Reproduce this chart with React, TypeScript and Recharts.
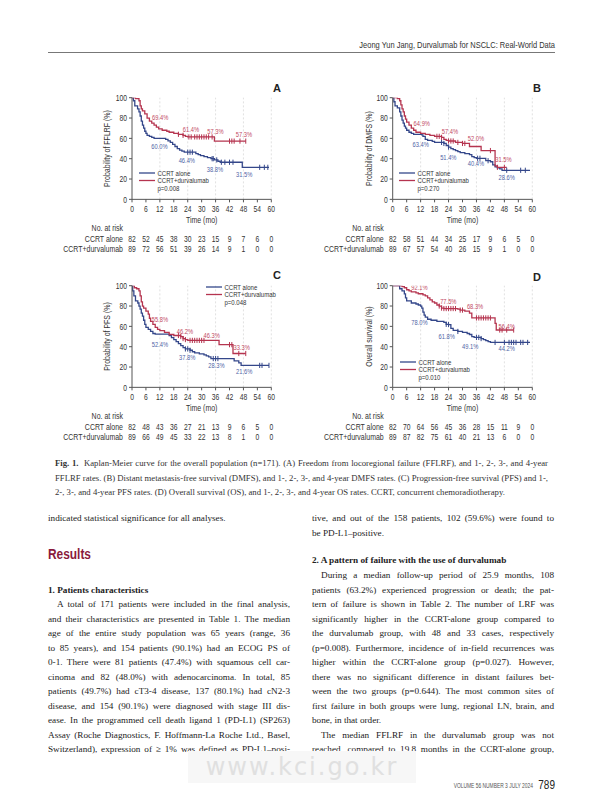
import React from 'react';
import { ComposedChart, Line, Scatter, XAxis, YAxis, ReferenceLine, Legend } from 'recharts';

type Step = [number, number];

// ---------- shared ticks ----------
const timeTicks = [0, 6, 12, 18, 24, 30, 36, 42, 48, 54, 60];
const survivalTicks = [0, 20, 40, 60, 80, 100];
const gridMonths = [12, 24, 36, 48, 60];

// ---------- Panel A: FFLRF ----------
const fflrfAlone: Step[] = [[0,100],[0.6,97],[1.2,92],[2.4,89],[3,86],[3.5,82],[4,77],[4.5,73],[5,70],[5.5,67],[6,65],[6.5,63],[7.5,62],[8.5,61],[9.5,60],[14.5,59],[15.5,57.5],[16.5,56],[17.5,54],[18.5,52],[19.5,50],[20.5,48.5],[21.5,47.5],[22.5,46.4],[27.5,45],[28.5,44],[29.5,43],[31,42],[32.5,41],[34,40],[35.5,38.8],[37,37.5],[38,36.5],[47.5,31.5],[59,31.5]];
const fflrfAloneCensor = [24, 25, 26, 34.5, 35, 36.5, 38.5, 40, 42, 43.5, 55, 57, 58.5];
const fflrfDurva: Step[] = [[0,100],[1.5,99],[3,97],[3.5,92],[4,89],[4.5,87],[5.5,84],[6.5,80],[7.5,77],[8.5,75],[9.5,73],[10.5,71],[11.5,69.4],[13,68],[15,67],[16,66],[18,65],[20,64],[22,63],[23,62],[24,61.4],[35.5,57.3],[49,57.3]];
const fflrfDurvaCensor = [20, 22, 24.5, 25.5, 27, 28, 29, 30, 31, 32, 33, 34.5, 42, 43, 44, 46.5, 49];
const fflrfAloneRates = ['60.0%', '46.4%', '38.8%', '31.5%'];
const fflrfAloneRateAt: Step[] = [[11.8,52.4],[23.6,38.7],[35.7,29.5],[48.3,25]];
const fflrfDurvaRates = ['69.4%', '61.4%', '57.3%', '57.3%'];
const fflrfDurvaRateAt: Step[] = [[12.1,80.7],[25.4,69],[35.9,67.3],[48.2,64.3]];
const fflrfRiskAlone = [82, 52, 45, 38, 30, 23, 15, 9, 7, 6, 0];
const fflrfRiskDurva = [89, 72, 56, 51, 39, 26, 14, 9, 1, 0, 0];

// ---------- Panel B: DMFS ----------
const dmfsAlone: Step[] = [[0,100],[0.5,96],[1,92],[2,90],[3,86],[3.5,82],[4,78],[4.5,75],[5,72],[5.5,70],[6,68],[7,66],[8,65],[9,64],[12.5,63.4],[13,62],[14,59],[15,58],[17,57],[18,56],[22,55],[23,53],[24,51.4],[25,50],[26,49],[27,48],[28,47],[29,46],[31,45],[33,44],[34,42],[35,41],[36,40.4],[40,38],[42,37],[43,34],[44,32],[45,31],[46,30],[47,28.6],[59,28.6]];
const dmfsAloneCensor = [21, 22, 24, 36.5, 37.5, 41, 49, 55, 57];
const dmfsDurva: Step[] = [[0,100],[2,99],[3,97],[3.5,93],[4,89],[4.5,86],[5,82],[5.5,79],[6,76],[7,73],[8,70],[9,68],[10,66],[12,64.9],[14,64],[16,63],[18,62],[21,61],[22,59],[23,58],[24,57.4],[27,56],[30,55],[33,52],[38,48],[44,33],[45,31.5],[49,31.5]];
const dmfsDurvaCensor = [19, 20, 21, 24, 25, 26, 28, 30, 31, 42, 45, 48];
const dmfsAloneRates = ['63.4%', '51.4%', '40.4%', '28.6%'];
const dmfsAloneRateAt: Step[] = [[12,54],[23.9,42],[35.8,36],[49,22.3]];
const dmfsDurvaRates = ['64.9%', '57.4%', '52.0%', '31.5%'];
const dmfsDurvaRateAt: Step[] = [[12.5,74.8],[24.6,67.2],[35.8,60],[47.6,39.7]];
const dmfsRiskAlone = [82, 58, 51, 44, 34, 25, 17, 9, 6, 5, 0];
const dmfsRiskDurva = [89, 67, 57, 54, 40, 26, 15, 9, 1, 0, 0];

// ---------- Panel C: PFS ----------
const pfsAlone: Step[] = [[0,100],[0.3,95],[0.8,90],[1.5,85],[2.5,83],[3,80],[3.5,77],[4,73],[4.5,70],[5,66],[5.5,62],[6,59],[7,57],[8,55],[9,53],[10,52.4],[16,51],[17,49],[18,47],[19,45],[20,43],[21,41],[22,39],[23,37.8],[25,36.5],[26,35],[27,34],[29,33],[31,32],[32,31],[33,30],[34,28.3],[44,26],[46,24],[47,21.6],[59,21.6]];
const pfsAloneCensor = [23, 24, 25, 35, 36, 37, 55, 56, 59];
const pfsDurva: Step[] = [[0,100],[1,98],[2,97],[3,95],[3.5,90],[4,84],[4.5,80],[5,78],[6,75],[7,72],[7.5,68],[8,65],[9,62],[10,59],[11,57],[12,55.8],[14,54],[16,52],[18,51],[21,50],[22,48],[23,47],[24,46.2],[37.5,42],[43.5,33.3],[49,33.3]];
const pfsDurvaCensor = [20, 21, 22, 23, 25, 26, 27, 28, 29, 30, 31, 42, 43, 46, 49];
const pfsAloneRates = ['52.4%', '37.8%', '28.3%', '21.6%'];
const pfsAloneRateAt: Step[] = [[12,42.3],[23.8,29.8],[36.4,21.6],[48.3,16.4]];
const pfsDurvaRates = ['55.8%', '46.2%', '46.3%', '33.3%'];
const pfsDurvaRateAt: Step[] = [[12,66.9],[22.8,55],[34.3,51.8],[47.2,39.7]];
const pfsRiskAlone = [82, 48, 43, 36, 27, 21, 13, 9, 6, 5, 0];
const pfsRiskDurva = [89, 66, 49, 45, 33, 22, 13, 8, 1, 0, 0];

// ---------- Panel D: OS ----------
const osAlone: Step[] = [[0,100],[3,97],[4,95],[5,92],[5.5,88],[6,85],[8,83],[10,82],[11,81],[12,80],[12.5,78],[13,74],[13.5,71],[14,69],[15,67],[16.5,66],[19,65],[22,64],[23,62],[24,61.8],[25,58],[26,56],[28,55],[30,54],[32,53],[33,52],[34,50],[35,49.1],[38,48],[39,47],[40,46],[41,45],[42,44.2],[59,44.2]];
const osAloneCensor = [23, 24, 28, 36, 37, 38, 44, 48, 50, 51, 52, 53, 55, 56, 58];
const osDurva: Step[] = [[0,100],[4,99],[5,98],[6,96],[7,95],[8,94],[10,93],[11,92.1],[13,91],[14,90],[15,88],[16,86],[17,84],[18,83],[19,81],[20,80],[21,78],[22,77.5],[28,77],[29,76],[31,75],[33,73],[34,68.3],[44,63],[44.5,56.4],[52,56.4]];
const osDurvaCensor = [20, 21, 22, 23, 24, 25, 26, 27, 29, 30, 36, 37, 38, 39, 40, 41, 42, 46, 47, 49, 52];
const osAloneRates = ['78.0%', '61.8%', '49.1%', '44.2%'];
const osAloneRateAt: Step[] = [[11.5,64.3],[23.2,50.5],[33.3,40.7],[49,38.7]];
const osDurvaRates = ['92.1%', '77.5%', '68.3%', '56.4%'];
const osDurvaRateAt: Step[] = [[11.5,98.7],[23.9,84.6],[35.4,80],[49,60.3]];
const osRiskAlone = [82, 70, 64, 56, 45, 36, 28, 15, 11, 9, 0];
const osRiskDurva = [89, 87, 82, 75, 61, 40, 21, 13, 6, 0, 0];

// ---------- page text ----------
const headerText = 'Jeong Yun Jang, Durvalumab for NSCLC: Real-World Data';
const captionLines = [
  'Kaplan-Meier curve for the overall population (n=171). (A) Freedom from locoregional failure (FFLRF), and 1-, 2-, 3-, and 4-year',
  'FFLRF rates. (B) Distant metastasis-free survival (DMFS), and 1-, 2-, 3-, and 4-year DMFS rates. (C) Progression-free survival (PFS) and 1-,',
  '2-, 3-, and 4-year PFS rates. (D) Overall survival (OS), and 1-, 2-, 3-, and 4-year OS rates. CCRT, concurrent chemoradiotherapy.',
];
const leftParagraph = [
  'A total of 171 patients were included in the final analysis,',
  'and their characteristics are presented in Table 1. The median',
  'age of the entire study population was 65 years (range, 36',
  'to 85 years), and 154 patients (90.1%) had an ECOG PS of',
  '0-1. There were 81 patients (47.4%) with squamous cell car-',
  'cinoma and 82 (48.0%) with adenocarcinoma. In total, 85',
  'patients (49.7%) had cT3-4 disease, 137 (80.1%) had cN2-3',
  'disease, and 154 (90.1%) were diagnosed with stage III dis-',
  'ease. In the programmed cell death ligand 1 (PD-L1) (SP263)',
  'Assay (Roche Diagnostics, F. Hoffmann-La Roche Ltd., Basel,',
  'Switzerland), expression of \u2265 1% was defined as PD-L1\u2013posi-',
];
const rightParagraph = [
  'During a median follow-up period of 25.9 months, 108',
  'patients (63.2%) experienced progression or death; the pat-',
  'tern of failure is shown in Table 2. The number of LRF was',
  'significantly higher in the CCRT-alone group compared to',
  'the durvalumab group, with 48 and 33 cases, respectively',
  '(p=0.008). Furthermore, incidence of in-field recurrences was',
  'higher within the CCRT-alone group (p=0.027). However,',
  'there was no significant difference in distant failures bet-',
  'ween the two groups (p=0.644). The most common sites of',
  'first failure in both groups were lung, regional LN, brain, and',
  'bone, in that order.',
  'The median FFLRF in the durvalumab group was not',
  'reached, compared to 19.8 months in the CCRT-alone group,',
];

// ---------- styling ----------
const SANS = '"Liberation Sans", Arial, sans-serif';
const SERIF = '"Liberation Serif", "DejaVu Serif", serif';
const NARROW = 0.75;
const BLUE = '#34478a';
const RED = '#b5344f';
const BLUE_TXT = '#4f64a6';
const RED_TXT = '#c24a64';
const AXIS = '#555';
const TXT = '#333';

const stepAt = (steps: Step[], t: number) => {
  let v = steps[0][1];
  for (const [x, y] of steps) {
    if (x <= t) v = y;
    else break;
  }
  return v;
};
const toPoints = (steps: Step[]) => steps.map(([t, s]) => ({ t, s }));
const toCensor = (steps: Step[], times: number[]) => times.map((t) => ({ t, s: stepAt(steps, t) }));
const toRates = (at: Step[], labels: string[]) => at.map(([t, s], i) => ({ t, s, label: labels[i] }));
const riskAnchors = timeTicks.map((t) => ({ t, s: 0 }));

type PanelCfg = {
  letter: string; left: number; top: number; yAxisW: number; mRight: number; yLabel: string; yLabelOffset: number;
  alone: Step[]; durva: Step[]; aloneCensor: number[]; durvaCensor: number[];
  aloneRates: { t: number; s: number; label: string }[]; durvaRates: { t: number; s: number; label: string }[];
  riskAlone: number[]; riskDurva: number[]; pValue: string; legendX: number; legendY: number; letterX: number; letterY: number;
};

const panels: PanelCfg[] = [
  {
    letter: 'A', left: 40, top: 80, yAxisW: 92, mRight: 18.7, yLabel: 'Probability of FFLRF (%)', yLabelOffset: 66.7,
    alone: fflrfAlone, durva: fflrfDurva, aloneCensor: fflrfAloneCensor, durvaCensor: fflrfDurvaCensor,
    aloneRates: toRates(fflrfAloneRateAt, fflrfAloneRates), durvaRates: toRates(fflrfDurvaRateAt, fflrfDurvaRates),
    riskAlone: fflrfRiskAlone, riskDurva: fflrfRiskDurva, pValue: 'p=0.008', legendX: 99, legendY: 88.5, letterX: 278, letterY: 88,
  },
  {
    letter: 'B', left: 300, top: 80, yAxisW: 92.7, mRight: 17.7, yLabel: 'Probability of DMFS (%)', yLabelOffset: 68.3,
    alone: dmfsAlone, durva: dmfsDurva, aloneCensor: dmfsAloneCensor, durvaCensor: dmfsDurvaCensor,
    aloneRates: toRates(dmfsAloneRateAt, dmfsAloneRates), durvaRates: toRates(dmfsDurvaRateAt, dmfsDurvaRates),
    riskAlone: dmfsRiskAlone, riskDurva: dmfsRiskDurva, pValue: 'p=0.270', legendX: 99.3, legendY: 89, letterX: 538, letterY: 88,
  },
  {
    letter: 'C', left: 40, top: 267.6, yAxisW: 92, mRight: 18.7, yLabel: 'Probability of PFS (%)', yLabelOffset: 66.7,
    alone: pfsAlone, durva: pfsDurva, aloneCensor: pfsAloneCensor, durvaCensor: pfsDurvaCensor,
    aloneRates: toRates(pfsAloneRateAt, pfsAloneRates), durvaRates: toRates(pfsDurvaRateAt, pfsDurvaRates),
    riskAlone: pfsRiskAlone, riskDurva: pfsRiskDurva, pValue: 'p=0.048', legendX: 166, legendY: 15.5, letterX: 278, letterY: 275,
  },
  {
    letter: 'D', left: 300, top: 267.6, yAxisW: 92.7, mRight: 17.7, yLabel: 'Overall survival (%)', yLabelOffset: 68.3,
    alone: osAlone, durva: osDurva, aloneCensor: osAloneCensor, durvaCensor: osDurvaCensor,
    aloneRates: toRates(osAloneRateAt, osAloneRates), durvaRates: toRates(osDurvaRateAt, osDurvaRates),
    riskAlone: osRiskAlone, riskDurva: osRiskDurva, pValue: 'p=0.010', legendX: 100, legendY: 90, letterX: 538, letterY: 277,
  },
];

const CH_W = 250;
const CH_H = 180;
const M_TOP = 17.7;
const PLOT_H = 101.65;
const X_MAIN_H = 34.5;
const X_R1_H = 9.5;
const X_R2_H = 10;

// condensed svg text (Liberation Sans squeezed horizontally, like a condensed grotesque)
const NText = ({ x, y, anchor = 'start', size, fill = TXT, rotate = 0, dy = '0.355em', squeeze = NARROW, children }: any) => (
  <text
    transform={`translate(${x},${y})${rotate ? ` rotate(${rotate})` : ''} scale(${squeeze},1)`}
    textAnchor={anchor} dy={dy} fontSize={size} fontFamily={SANS} fill={fill}
  >
    {children}
  </text>
);

const XTick = (fmt?: (v: number) => string) => (props: any) => {
  const { x, y, payload } = props;
  const v = payload?.value;
  return <NText x={x} y={y} anchor="middle" size={9} dy="0.71em">{fmt ? fmt(v) : String(v)}</NText>;
};
const YTick = (props: any) => {
  const { x, y, payload } = props;
  return <NText x={x} y={y} anchor="end" size={9}>{String(payload?.value)}</NText>;
};

const CensorMark = (color: string) => (props: any) => {
  const { cx, cy } = props;
  if (cx == null || cy == null) return <g />;
  return <line x1={cx} x2={cx} y1={cy - 2.6} y2={cy + 2.6} stroke={color} strokeWidth={1} />;
};
const RateLabel = (color: string) => (props: any) => {
  const { cx, cy, payload } = props;
  if (cx == null || cy == null) return <g />;
  return <NText x={cx} y={cy} anchor="middle" size={8} squeeze={0.72} fill={color}>{payload?.label}</NText>;
};
const Nothing = () => <g />;

const RowLabel = (text: string, withHeader: boolean) => (props: any) => {
  const vb = props?.viewBox;
  if (!vb) return null;
  return (
    <g>
      {withHeader && <NText x={vb.x - 9} y={vb.y - 6.5} anchor="end" size={9.3}>No. at risk</NText>}
      <NText x={vb.x - 9} y={vb.y + 5} anchor="end" size={9.3}>{text}</NText>
    </g>
  );
};
const TimeLabel = (props: any) => {
  const vb = props?.viewBox;
  if (!vb) return null;
  return <NText x={vb.x + vb.width / 2} y={vb.y + 20} anchor="middle" size={9.3}>Time (mo)</NText>;
};
const YLabel = (text: string, offset: number) => (props: any) => {
  const vb = props?.viewBox;
  if (!vb) return null;
  return <NText x={vb.x + offset} y={vb.y + vb.height / 2} anchor="middle" size={9.3} rotate={-90}>{text}</NText>;
};

const LegendBox = ({ pValue }: { pValue: string }) => (
  <svg width={110} height={26} style={{ display: 'block', overflow: 'visible' }}>
    <line x1={0} x2={16} y1={4} y2={4} stroke={BLUE} strokeWidth={1.3} />
    <NText x={18.5} y={4} size={8}>CCRT alone</NText>
    <line x1={0} x2={16} y1={11.5} y2={11.5} stroke={RED} strokeWidth={1.3} />
    <NText x={18.5} y={11.5} size={8}>CCRT+durvalumab</NText>
    <NText x={18.5} y={19.5} size={8}>{pValue}</NText>
  </svg>
);

function KMPanel({ p }: { p: PanelCfg }) {
  const mBottom = CH_H - M_TOP - PLOT_H - X_MAIN_H - X_R1_H - X_R2_H;
  return (
    <div style={{ position: 'absolute', left: p.left, top: p.top, width: CH_W, height: CH_H }}>
      <ComposedChart width={CH_W} height={CH_H} margin={{ top: M_TOP, right: p.mRight, bottom: mBottom, left: 0 }}>
        <XAxis
          xAxisId="a_time" type="number" dataKey="t" domain={[0, 60]} ticks={timeTicks} interval={0} allowDataOverflow
          stroke={AXIS} tickSize={3} tickMargin={3.3} tick={XTick()} height={X_MAIN_H} label={TimeLabel}
        />
        <XAxis
          xAxisId="b_risk1" type="number" dataKey="t" domain={[0, 60]} ticks={timeTicks} interval={0} allowDataOverflow
          axisLine={false} tickLine={false} tickSize={0} tickMargin={1.8} height={X_R1_H}
          tick={XTick((v) => String(p.riskAlone[timeTicks.indexOf(v)]))}
          label={RowLabel('CCRT alone', true)}
        />
        <XAxis
          xAxisId="c_risk2" type="number" dataKey="t" domain={[0, 60]} ticks={timeTicks} interval={0} allowDataOverflow
          axisLine={false} tickLine={false} tickSize={0} tickMargin={1.8} height={X_R2_H}
          tick={XTick((v) => String(p.riskDurva[timeTicks.indexOf(v)]))}
          label={RowLabel('CCRT+durvalumab', false)}
        />
        <YAxis
          yAxisId="s" type="number" dataKey="s" domain={[0, 100]} ticks={survivalTicks} interval={0} allowDataOverflow
          width={p.yAxisW} stroke={AXIS} tickSize={3} tickMargin={2} tick={YTick}
          label={YLabel(p.yLabel, p.yLabelOffset)}
        />
        {gridMonths.map((g) => (
          <ReferenceLine key={g} xAxisId="a_time" yAxisId="s" x={g} stroke="#d4d4d4" strokeWidth={0.7} strokeDasharray="2 2" />
        ))}
        <Scatter xAxisId="b_risk1" yAxisId="s" data={riskAnchors} shape={Nothing} isAnimationActive={false} />
        <Scatter xAxisId="c_risk2" yAxisId="s" data={riskAnchors} shape={Nothing} isAnimationActive={false} />
        <Line xAxisId="a_time" yAxisId="s" data={toPoints(p.alone)} dataKey="s" type="stepAfter" stroke={BLUE} strokeWidth={1.3} dot={false} activeDot={false} isAnimationActive={false} />
        <Line xAxisId="a_time" yAxisId="s" data={toPoints(p.durva)} dataKey="s" type="stepAfter" stroke={RED} strokeWidth={1.3} dot={false} activeDot={false} isAnimationActive={false} />
        <Scatter xAxisId="a_time" yAxisId="s" data={toCensor(p.alone, p.aloneCensor)} shape={CensorMark(BLUE)} isAnimationActive={false} />
        <Scatter xAxisId="a_time" yAxisId="s" data={toCensor(p.durva, p.durvaCensor)} shape={CensorMark(RED)} isAnimationActive={false} />
        <Scatter xAxisId="a_time" yAxisId="s" data={p.aloneRates} shape={RateLabel(BLUE_TXT)} isAnimationActive={false} />
        <Scatter xAxisId="a_time" yAxisId="s" data={p.durvaRates} shape={RateLabel(RED_TXT)} isAnimationActive={false} />
        <Legend
          layout="horizontal" verticalAlign="middle" align="center"
          wrapperStyle={{ left: p.legendX, top: p.legendY, width: 110, height: 26 }}
          content={() => <LegendBox pValue={p.pValue} />}
        />
      </ComposedChart>
    </div>
  );
}

type LineProps = {
  x: number; y: number; w: number; text: React.ReactNode; size: number; font: string;
  weight?: number | string; color?: string; justify?: boolean; indent?: number; align?: 'left' | 'right'; squeeze?: number;
};
function TextLine({ x, y, w, text, size, font, weight = 400, color = '#222', justify = false, indent = 0, align = 'left', squeeze = 1 }: LineProps) {
  return (
    <div
      style={{
        position: 'absolute', left: x, top: y - 8, width: w, height: 16, lineHeight: '16px',
        fontSize: size, fontFamily: font, fontWeight: weight as any, color,
        textAlign: justify ? 'justify' : align, textAlignLast: (justify ? 'justify' : align) as any,
        paddingLeft: indent, boxSizing: 'border-box', whiteSpace: 'nowrap',
        transform: squeeze !== 1 ? `scaleX(${squeeze})` : undefined,
        transformOrigin: align === 'right' ? 'right center' : 'left center',
      }}
    >
      {text}
    </div>
  );
}

export default function App() {
  const L = 48;
  const R = 312;
  const COLW = 242;
  const LH = 14.5;
  const BODY = 9.2;
  return (
    <div style={{ position: 'absolute', left: 0, top: 0, width: 600, height: 800, background: '#fff', overflow: 'hidden' }}>
      {/* running header */}
      <TextLine x={205} y={45} w={350} text={headerText} size={9.6} font={SANS} color="#333" align="right" squeeze={0.78} />
      <div style={{ position: 'absolute', left: L, top: 52, width: 555 - L, height: 1, background: '#777' }} />

      {panels.map((p) => (
        <React.Fragment key={p.letter}>
          <KMPanel p={p} />
          <div style={{ position: 'absolute', left: p.letterX - 5, top: p.letterY - 7, fontFamily: SANS, fontWeight: 700, fontSize: 11, color: '#222', lineHeight: '14px' }}>
            {p.letter}
          </div>
        </React.Fragment>
      ))}

      {/* caption */}
      {captionLines.map((ln, i) => (
        <TextLine
          key={i} x={55} y={463 + i * 14.5} w={493} size={8.7} font={SERIF} color="#333" justify={i < 2}
          text={i === 0 ? (<><b>Fig. 1.</b>{'\u00a0 '}{ln}</>) : ln}
        />
      ))}

      {/* left column */}
      <TextLine x={L} y={518} w={COLW} text="indicated statistical significance for all analyses." size={BODY} font={SERIF} />
      <TextLine x={L} y={554} w={COLW} text="Results" size={14} font={SANS} weight={700} color="#8a1a3c" squeeze={0.85} />
      <TextLine x={L} y={589.5} w={COLW} text="1. Patients characteristics" size={BODY} font={SERIF} weight={700} />
      {leftParagraph.map((ln, i) => (
        <TextLine key={i} x={L} y={604 + i * LH} w={COLW} text={ln} size={BODY} font={SERIF} justify indent={i === 0 ? 9 : 0} />
      ))}

      {/* right column */}
      <TextLine x={R} y={518} w={COLW} text="tive, and out of the 158 patients, 102 (59.6%) were found to" size={BODY} font={SERIF} justify />
      <TextLine x={R} y={532.5} w={COLW} text={'be PD-L1\u2013positive.'} size={BODY} font={SERIF} />
      <TextLine x={R} y={560} w={COLW} text="2. A pattern of failure with the use of durvalumab" size={BODY} font={SERIF} weight={700} />
      {rightParagraph.map((ln, i) => (
        <TextLine
          key={i} x={R} y={575 + i * LH} w={COLW} text={ln} size={BODY} font={SERIF}
          justify={i !== 10} indent={i === 0 || i === 11 ? 9 : 0}
        />
      ))}

      {/* watermark */}
      <div style={{ position: 'absolute', left: 188, top: 751, width: 228, height: 32, background: '#f7f7f7' }} />
      <div style={{ position: 'absolute', left: 188, top: 751, width: 228, height: 32, lineHeight: '32px', textAlign: 'center', fontFamily: '"DejaVu Sans", sans-serif', fontSize: 24, letterSpacing: 2, color: '#e0e0e0' }}>
        www.kci.go.kr
      </div>

      {/* footer */}
      <TextLine x={333} y={786} w={200} text="VOLUME 56 NUMBER 3 JULY 2024" size={7} font={SANS} color="#555" align="right" squeeze={0.7} />
      <TextLine x={525} y={785} w={30} text="789" size={12.5} font={SANS} color="#222" align="right" squeeze={0.8} />
    </div>
  );
}
